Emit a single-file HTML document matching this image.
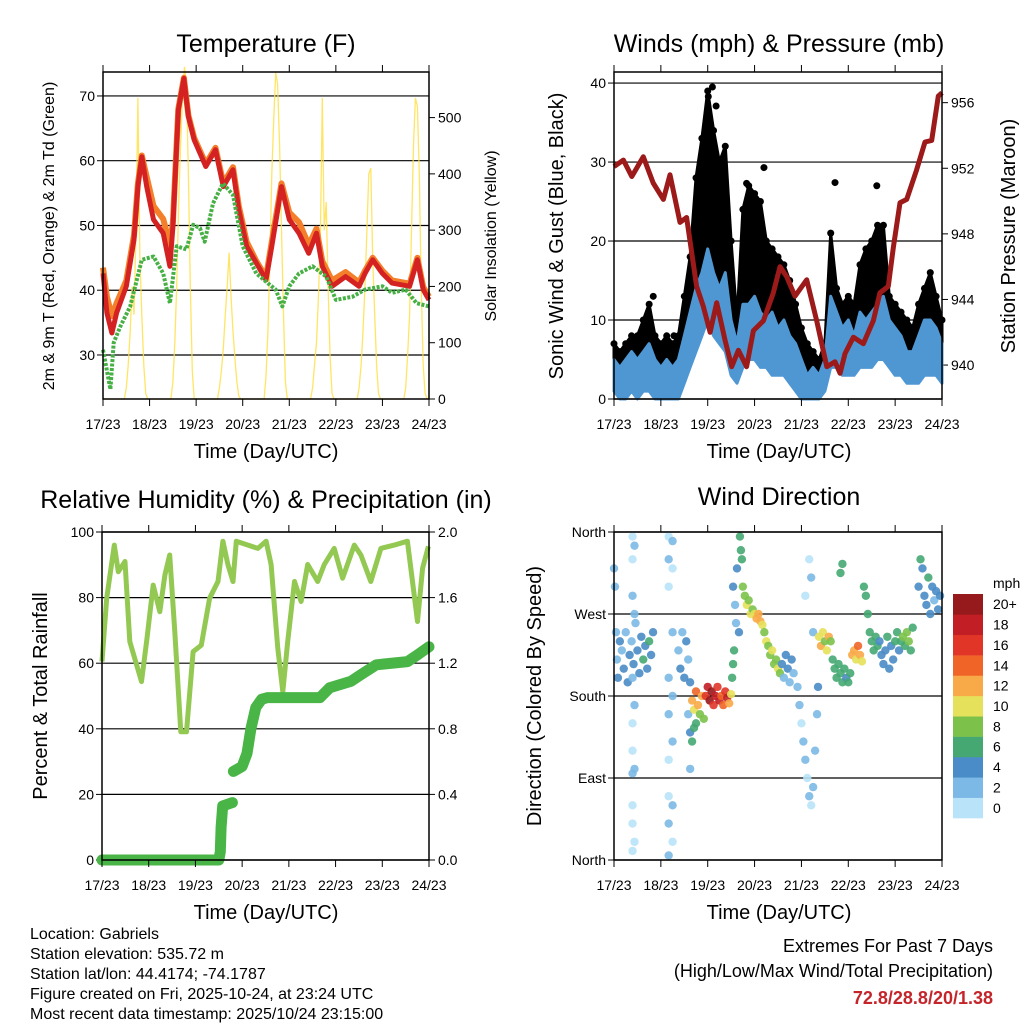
<!DOCTYPE html>
<html><head><meta charset="utf-8">
<style>
body{margin:0;background:#fff;}
svg{display:block;font-family:"Liberation Sans",Arial,sans-serif;}
</style></head>
<body>
<svg id="svg" width="1024" height="1024" viewBox="0 0 1024 1024">
<rect width="1024" height="1024" fill="#fff"/>
<g id="p1"></g>
<g id="p2"></g>
<g id="p3"></g>
<g id="p4"></g>
<text x="266" y="52" font-size="25" text-anchor="middle">Temperature (F)</text>
<text x="779" y="52" font-size="25" text-anchor="middle">Winds (mph) &amp; Pressure (mb)</text>
<text x="266" y="508" font-size="25" text-anchor="middle">Relative Humidity (%) &amp; Precipitation (in)</text>
<text x="779" y="505" font-size="25" text-anchor="middle">Wind Direction</text>
<text transform="translate(54,236) rotate(-90)" font-size="16" text-anchor="middle">2m &amp; 9m T (Red, Orange) &amp; 2m Td (Green)</text>
<text transform="translate(496,236) rotate(-90)" font-size="16" text-anchor="middle">Solar Insolation (Yellow)</text>
<text transform="translate(563,236) rotate(-90)" font-size="20" text-anchor="middle">Sonic Wind &amp; Gust (Blue, Black)</text>
<text transform="translate(1015,236) rotate(-90)" font-size="20" text-anchor="middle">Station Pressure (Maroon)</text>
<text transform="translate(47,696) rotate(-90)" font-size="20" text-anchor="middle">Percent &amp; Total Rainfall</text>
<text transform="translate(541,696) rotate(-90)" font-size="20" text-anchor="middle">Direction (Colored By Speed)</text>
<text x="266" y="458" font-size="20" text-anchor="middle">Time (Day/UTC)</text>
<text x="779" y="458" font-size="20" text-anchor="middle">Time (Day/UTC)</text>
<text x="266" y="919" font-size="20" text-anchor="middle">Time (Day/UTC)</text>
<text x="779" y="919" font-size="20" text-anchor="middle">Time (Day/UTC)</text>
<g font-size="16">
<text x="30" y="939">Location: Gabriels</text>
<text x="30" y="959">Station elevation: 535.72 m</text>
<text x="30" y="979">Station lat/lon: 44.4174; -74.1787</text>
<text x="30" y="999">Figure created on Fri, 2025-10-24, at 23:24 UTC</text>
<text x="30" y="1019">Most recent data timestamp: 2025/10/24 23:15:00</text>
</g>
<text x="993" y="952" font-size="18" text-anchor="end">Extremes For Past 7 Days</text>
<text x="993" y="977" font-size="18" text-anchor="end">(High/Low/Max Wind/Total Precipitation)</text>
<text x="993" y="1004" font-size="18" font-weight="bold" fill="#c4252a" text-anchor="end">72.8/28.8/20/1.38</text>
<g id="cbar"></g>
</svg>
<script>
// ---------- data ----------
const dayLabels = ["17/23","18/23","19/23","20/23","21/23","22/23","23/23","24/23"];
const tempHours = [0,2,4.6,7,12,16,18,20,22.5,26,31,34.5,36,38.8,41.7,44,47,53,58,62,67,70,74,79,84,87,92,96,101,106,110,113,118,125,132,135,139,144,149,158,162,165,168];
const tempRed   = [42.6,36.5,33.4,36.5,40.6,47.8,56,60.6,56,50.9,48.8,43.7,49.8,67.8,72.7,66.8,63.2,59.1,61.7,56,58.6,52.4,46.8,44.2,41.6,46.8,56,50.9,48.8,45.7,48.8,43.7,40.6,42.1,40.6,42.6,44.7,42.6,41.1,40.6,44.7,40.1,38.5];
const tempOrange= [43.5,39,36,38,41.5,48.5,56.5,60.8,57.5,53,51,47,50.5,68,72.8,67,63.5,59.5,62,56.5,59,53,47.5,44.5,42,47.5,56.5,52,50.5,47,49.5,44.5,41.5,42.8,41.2,43,45,43,41.5,41,45,40.5,39];
const dewHours = [0,3.8,5.5,8.9,14,20,26,31,34.5,38,43,46.5,50,52.4,56.7,61.8,67,72,79,84.9,89,92.4,96,101,108,115,120,128.6,135,144,149,156,161.6,168];
const dewPoint = [30.8,24.7,31.9,34.4,37.5,44.7,45.2,42.6,38,46.8,46.3,50.1,49.6,47.5,53.4,56.5,54.7,46.8,42.6,41.1,40.1,37.5,40.6,42.6,43.7,42.1,38.5,39,40.1,40.6,39.6,40.1,38,37.5];
const solarByDay = [
 [0,20,60,120,200,150,300,535,250,150,60,10,0],
 [0,30,100,200,350,450,540,590,560,400,200,50,0],
 [0,20,50,90,150,200,260,180,120,70,30,5,0],
 [0,40,120,250,400,500,580,560,450,300,150,30,0],
 [0,20,60,100,180,280,535,300,350,200,80,10,0],
 [0,20,60,120,200,300,400,410,250,150,60,10,0],
 [0,20,80,150,300,450,535,520,400,200,60,10,0]
];
const solarStartHour = 11;

const presHours = [0,4.8,9.1,15,20.1,25.3,28.7,33.8,37.2,42.3,45.7,49.2,52.6,56.9,60.3,63.7,67.9,71.4,76.5,81.6,85,88.4,92.7,98.7,103.8,109,113.2,115.8,118.3,122.6,127.7,132.8,136.2,140.5,143.1,146.5,149.9,155,159.3,162.7,166.1,168];
const pressure  = [952.1,952.5,951.5,952.7,951.1,950.1,951.6,948.7,949,944.8,943.6,942,943.8,941.5,939.9,940.9,939.9,942.1,942.7,944.4,946,945.4,944.2,945.2,942.7,939.9,940.2,939.5,940.7,941.7,941.3,942.7,944.4,944.8,947.2,949.9,950.1,951.9,953.6,953.7,956.4,956.6];
const windHours = [0,3,6,9,12,15,18,21,24,27,30,33,36,39,42,45,48,51,54,57,60,63,66,69,72,75,78,81,84,87,90,93,96,99,102,105,108,111,114,117,120,123,126,129,132,135,138,141,144,147,150,153,156,159,162,165,168];
const windHi = [5,4,5,6,5,6,7,5,4,5,4,5,8,11,14,16,19,16,14,16,10,7,12,12,13,11,10,11,9,10,8,7,5,3,4,3,5,13,11,9,10,8,11,10,11,12,13,10,9,8,6,6,8,10,10,9,7];
const windLo = [1,0,0,1,0,1,1,0,0,0,0,0,2,4,6,8,10,8,7,6,3,2,4,5,5,4,4,3,3,3,2,1,0,0,0,0,1,4,4,3,3,3,4,4,4,5,5,4,3,3,2,2,2,3,3,3,2];
const gustHi = [7,6,7,8,8,10,12,8,7,8,7,8,13,18,28,33,39,34,30,32,20,10,24,27,26,25,20,19,18,17,15,12,9,7,6,5,7,21,14,12,13,12,17,19,20,22,22,13,12,11,10,9,12,14,16,13,10];
const gustLo = [3,2,3,4,3,4,5,3,2,2,2,3,5,8,12,14,16,14,12,12,5,3,8,10,10,9,7,7,6,6,4,3,2,1,1,1,2,8,6,5,5,4,7,7,8,8,8,6,5,4,3,3,4,5,5,5,3];
const gustOutHours = [20.1,30.7,48.3,50.4,52.3,67.9,76.8,113.2,134.6];
const gustOutVals  = [13,8,38.3,39.5,37.1,27.3,29.3,27.4,27];

const rhHours = [0,2.4,4.1,6.3,8.4,11.8,14.3,17.8,20.3,22.9,26.3,29.7,32.3,34.8,37.4,40.5,43.4,46.8,51,55.3,59.6,62.1,64.7,67.3,69,75,80.1,84.3,86.9,90.3,92.9,95.4,98.9,102.3,105.7,110.8,114.2,119.3,123.6,129.6,133,138.1,143.3,150.1,156.9,159.5,162.1,164.7,167.7];
const rhVals  = [60.5,79.8,86.9,96,87.9,91,66.6,59.5,54.4,66.6,83.8,75.7,86.9,93,69.6,39.1,39.1,63.5,65.5,79.8,84.9,97.2,90.1,84.9,97.2,96,95,97.2,90.1,64.5,51.3,66.6,84.9,78.8,90.1,84.9,90.1,95,85.9,96,93,84.9,95,96,97.2,84.9,72.7,89,95.6];
const precipHours = [0,60,60.8,61.2,62,67,67.5,72,74.5,76.5,79,82,85,112,117,128,133,141,157,162,168];
const precipVals  = [0,0,0.05,0.2,0.33,0.35,0.54,0.57,0.65,0.8,0.93,0.98,0.99,0.99,1.05,1.09,1.13,1.19,1.21,1.25,1.30];

const dirHours = [0,0.5,1,1.5,2,3,4,5,6,7,8,9,10,11,12,13,14,15,16,17,18,19,20,
 9.5,9.5,9.5,9.5,9.5,9.5,9.5,9.5,9.5,9.5, 10.5,10.5,10.5,10.5,10.5,
 28,28,28,28,28,28,28,28,28, 30,30,30,30,30,30,30,
 33,34,35,36,37,38,39,38,39,39,
 40,41,42,42,43,44,45,46,40,41,
 47,48,49,50,51,52,53,54,55,56,57,58,59,60,
 60.5,61,61.5, 61,62,63,62.5,64, 64.5,65,65.5,
 66,67,68,69,70,71,72, 73,74,75,76,77,
 78,79,80,81,82,83,84,85, 86,87,88,89,90,91,92,
 94,95,96,97,98,99,100,101,102,103,104,104.5, 100,101,102,98,
 105,106,107,108,109,110,111, 116,117,
 112,113,114,115,116,117,118,119,120,121,
 122,123,124,125,126,127, 128,129,130,131,132,133,134,135,
 136,137,138,139,140,141,142,143,144,145,146,147,
 148,149,150,151,152,153, 156,157,158,159,160,161,162,163,164,165,166,167];
const dirDegrees = [320,300,250,220,200,240,230,210,250,195,225,240,215,260,230,205,245,220,235,210,240,225,250,
 355,330,290,200,150,120,95,60,40,10, 345,270,170,100,20,
 355,330,300,200,160,110,70,40,5, 350,320,250,180,130,60,20,
 230,210,250,200,240,220,195,160,140,100,
 175,165,185,150,170,160,180,155,130,145,
 180,190,175,185,170,180,190,175,180,170,185,178,172,182,
 200,215,230, 300,280,320,260,250, 355,340,330,
 300,290,280,285,270,275,270, 265,270,262,258,250,
 240,235,225,230,215,220,210,205, 215,200,225,210,195,220,205,
 190,170,150,130,110,90,70,60,80,120,160,190, 330,310,250,290,
 245,235,250,240,230,245,240, 315,325,
 220,210,200,215,205,195,210,200,195,205,
 225,230,220,235,225,218, 300,290,270,250,240,230,245,235,
 240,225,215,230,245,210,235,220,240,250,230,240,
 245,235,250,240,230,255, 300,330,320,290,280,310,270,300,285,295,275,290];
const dirSpeeds = [2,2,3,3,4,4,3,4,3,4,4,3,4,3,5,4,5,6,5,4,6,5,4,
 1,1,2,2,1,1,2,1,1,1, 2,2,3,2,1,
 1,2,1,2,2,1,1,2,3, 2,1,2,3,2,2,1,
 3,4,3,4,4,3,4,3,4,3,
 12,10,14,7,12,9,13,8,6,7,
 16,18,20,20,17,19,16,18,14,15,16,18,12,10,
 6,7,6, 4,3,4,3,4, 6,6,6,
 8,9,10,8,10,9,11, 12,13,12,10,9,
 10,9,8,10,9,8,10,8, 4,3,4,4,3,4,3,
 2,2,1,2,2,1,2,1,2,2,3,4, 1,2,2,1,
 10,13,11,9,10,12,8, 7,6,
 6,7,6,6,7,6,6,5,7,6,
 12,13,11,14,12,10, 7,6,6,7,6,6,6,7,
 5,4,5,4,6,4,5,4,7,6,5,6,
 8,7,9,8,7,7, 5,6,4,5,4,6,4,5,3,4,5,4];
const speedColors = ["#b8e3f8","#7cb9e6","#4a8cc7","#45a872","#7cc24a","#e6e15a","#f8aa48","#f06428","#e03527","#c21e25","#961a1c"];
const speedLabels = ["0","2","4","6","8","10","12","14","16","18","20+"];

// ---------- helpers ----------
const NS="http://www.w3.org/2000/svg";
function mk(parent, tag, attrs){const e=document.createElementNS(NS,tag);for(const k in attrs)e.setAttribute(k,attrs[k]);parent.appendChild(e);return e;}
function lin(d0,d1,r0,r1){return v=>r0+(v-d0)/(d1-d0)*(r1-r0);}
function pathOf(xs,ys,fx,fy){return xs.map((h,i)=>(i?"L":"M")+fx(h).toFixed(1)+","+fy(ys[i]).toFixed(1)).join("");}

function frame(g,P,leftTicks,leftLab,rightTicks,rightLab,fyL,fyR){
  leftTicks.forEach((v,i)=>{
    const y=fyL(v);
    const gl=mk(g,"line",{x1:P.x0,x2:P.x1,y1:y,y2:y,stroke:"#000","stroke-width":1.2});
    
    
    mk(g,"line",{x1:P.x0-6,x2:P.x0,y1:y,y2:y,stroke:"#000","stroke-width":1});
    const t=mk(g,"text",{x:P.x0-8,y:y+5,"font-size":14,"text-anchor":"end"});
    t.textContent=leftLab[i];
    
    
  });
  if(rightTicks){rightTicks.forEach((v,i)=>{
    const y=fyR(v);
    mk(g,"line",{x1:P.x1,x2:P.x1+6,y1:y,y2:y,stroke:"#000","stroke-width":1});
    const t=mk(g,"text",{x:P.x1+9,y:y+5,"font-size":14});
    t.textContent=rightLab[i];
    
    
  });}
}
function xaxis(g,P,fx){
  dayLabels.forEach((lab,i)=>{
    const x=fx(i*24);
    mk(g,"line",{x1:x,x2:x,y1:P.y1,y2:P.y1+7,stroke:"#000","stroke-width":1});
    mk(g,"line",{x1:x,x2:x,y1:P.y0-7,y2:P.y0,stroke:"#000","stroke-width":1});
    const t=mk(g,"text",{x:x,y:P.y1+30,"font-size":14,"text-anchor":"middle"});
    t.textContent=lab;
    
    
  });
}
function border(g,P){
  const b=mk(g,"rect",{x:P.x0,y:P.y0,width:P.x1-P.x0,height:P.y1-P.y0,fill:"none",stroke:"#000","stroke-width":1.5});
  
  
}

// ---------- panel 1 ----------
(function(){
  const g=document.getElementById("p1");
  const P={x0:103,x1:429,y0:72,y1:399};
  const fx=lin(0,168,P.x0,P.x1), fy=lin(23.2,73.7,P.y1,P.y0), fs=lin(0,581,P.y1,P.y0);
  frame(g,P,[30,40,50,60,70],["30","40","50","60","70"],[0,100,200,300,400,500],["0","100","200","300","400","500"],fy,fs);
  const sh=[],sv=[];
  for(let d=0;d<7;d++){for(let k=0;k<24;k++){const j=k-solarStartHour;sh.push(d*24+k);sv.push(j>=0&&j<solarByDay[d].length?solarByDay[d][j]:0);}}
  sh.push(168);sv.push(0);
  const s=mk(g,"path",{d:pathOf(sh,sv,fx,fs),fill:"none",stroke:"#ffe04a","stroke-width":1.3,"stroke-opacity":0.85});
  
  
  const o=mk(g,"path",{d:pathOf(tempHours,tempOrange,fx,fy),fill:"none",stroke:"#f47f2a","stroke-width":6,"stroke-linejoin":"round"});
  
  
  const r=mk(g,"path",{d:pathOf(tempHours,tempRed,fx,fy),fill:"none",stroke:"#d42222","stroke-width":5,"stroke-linejoin":"round"});
  
  
  const dp=mk(g,"path",{d:pathOf(dewHours,dewPoint,fx,fy),fill:"none",stroke:"#46b045","stroke-width":4,"stroke-dasharray":"3 1.5","stroke-linejoin":"round"});
  
  
  border(g,P); xaxis(g,P,fx);
})();

// ---------- panel 2 ----------
(function(){
  const g=document.getElementById("p2");
  const P={x0:614,x1:942,y0:72,y1:399};
  const fx=lin(0,168,P.x0,P.x1), fy=lin(0,41.4,P.y1,P.y0), fp=lin(937.93,957.87,P.y1,P.y0);
  frame(g,P,[0,10,20,30,40],["0","10","20","30","40"],[940,944,948,952,956],["940","944","948","952","956"],fy,fp);
  const band=(lo,hi,col,name)=>{
    const d=pathOf(windHours,hi,fx,fy)+pathOf(windHours.slice().reverse(),lo.slice().reverse(),fx,fy).replace(/^M/,"L")+"Z";
    const p=mk(g,"path",{d:d,fill:col,stroke:col,"stroke-width":3,"stroke-linejoin":"round"});
    
    
  };
  band(gustLo,gustHi,"#000","gust-band");
  windHours.forEach((h,i)=>{
    const c=mk(g,"circle",{cx:fx(h),cy:fy(gustHi[i]),r:3.5,fill:"#000"});
    
    
  });
  gustOutHours.forEach((h,i)=>{
    const c=mk(g,"circle",{cx:fx(h),cy:fy(gustOutVals[i]),r:3.5,fill:"#000"});
    
    
  });
  band(windLo,windHi,"#4f97d3","wind-band");
  const pr=mk(g,"path",{d:pathOf(presHours,pressure,fx,fp),fill:"none",stroke:"#9c1a1a","stroke-width":5,"stroke-linejoin":"round"});
  
  
  border(g,P); xaxis(g,P,fx);
})();

// ---------- panel 3 ----------
(function(){
  const g=document.getElementById("p3");
  const P={x0:102,x1:429,y0:532,y1:860};
  const fx=lin(0,168,P.x0,P.x1), fy=lin(0,100,P.y1,P.y0), fp=lin(0,2,P.y1,P.y0);
  frame(g,P,[0,20,40,60,80,100],["0","20","40","60","80","100"],[0,0.4,0.8,1.2,1.6,2.0],["0.0","0.4","0.8","1.2","1.6","2.0"],fy,fp);
  const rh=mk(g,"path",{d:pathOf(rhHours,rhVals,fx,fy),fill:"none",stroke:"#93c952","stroke-width":5,"stroke-linejoin":"round"});
  
  
  let segH=[precipHours[0]],segV=[precipVals[0]];
  const draw=()=>{const p=mk(g,"path",{d:pathOf(segH,segV,fx,fp)+(segH.length==1?"l0.1,0":""),fill:"none",stroke:"#49b546","stroke-width":11,"stroke-linecap":"round","stroke-linejoin":"round"});
    
    };
  for(let i=1;i<precipHours.length;i++){
    if(precipVals[i]-precipVals[i-1]>0.18){draw();segH=[];segV=[];}
    segH.push(precipHours[i]);segV.push(precipVals[i]);
  }
  draw();
  border(g,P); xaxis(g,P,fx);
})();

// ---------- panel 4 ----------
(function(){
  const g=document.getElementById("p4");
  const P={x0:614,x1:942,y0:532,y1:860};
  const fx=lin(0,168,P.x0,P.x1), fy=lin(0,360,P.y1,P.y0);
  frame(g,P,[0,90,180,270,360],["North","East","South","West","North"],null,null,fy,null);
  dirHours.forEach((h,i)=>{
    const b=Math.min(10,Math.floor(dirSpeeds[i]/2));
    const c=mk(g,"circle",{cx:fx(h),cy:fy(dirDegrees[i]),r:4.2,fill:speedColors[b],"fill-opacity":0.9});
    
    
  });
  border(g,P); xaxis(g,P,fx);
  const cb=document.getElementById("cbar");
  const t=mk(cb,"text",{x:993,y:588,"font-size":14});
  t.textContent="mph";
  
  
  const top=594,h=(818-594)/11;
  speedLabels.forEach((lab,i)=>{
    const y=top+(10-i)*h;
    const r=mk(cb,"rect",{x:953,y:y,width:30,height:h+0.3,fill:speedColors[i]});
    
    
    const tl=mk(cb,"text",{x:993,y:y+h/2+5,"font-size":14});
    tl.textContent=lab;
    
    
  });
})();
</script>
</body></html>
